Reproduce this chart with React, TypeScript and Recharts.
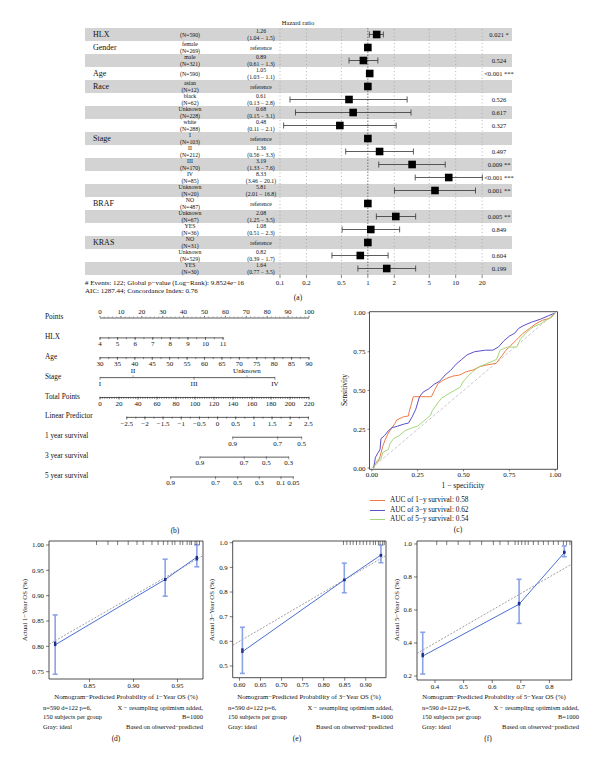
import React from 'react'
import {
  ComposedChart, Line, Scatter, XAxis, YAxis, ReferenceArea, ReferenceLine, ErrorBar,
} from 'recharts'

const FONT = '"Liberation Serif", "Times New Roman", "DejaVu Serif", serif'
const INK = '#111'

// ---------- (a) forest plot ----------
const variables = ['HLX', 'Gender', '', 'Age', 'Race', '', '', '', 'Stage', '', '', '', '', 'BRAF', '', '', 'KRAS', '', '']
const levels = ['', 'female', 'male', '', 'asian', 'black', 'Unknown', 'white', 'I', 'II', 'III', 'IV', 'Unknown', 'NO', 'Unknown', 'YES', 'NO', 'Unknown', 'YES']
const counts = [590, 269, 321, 590, 12, 62, 228, 288, 103, 212, 170, 85, 20, 487, 67, 36, 31, 529, 30]
const hrs = [1.26, null, 0.89, 1.05, null, 0.61, 0.68, 0.48, null, 1.36, 3.19, 8.33, 5.81, null, 2.08, 1.08, null, 0.82, 1.64]
const lows = [1.04, null, 0.61, 1.03, null, 0.13, 0.15, 0.11, null, 0.56, 1.33, 3.46, 2.01, null, 1.25, 0.51, null, 0.39, 0.77]
const highs = [1.5, null, 1.3, 1.1, null, 2.8, 3.1, 2.1, null, 3.3, 7.6, 20.1, 16.8, null, 3.5, 2.3, null, 1.7, 3.5]
const pvals = ['0.021 *', '', '0.524', '<0.001 ***', '', '0.526', '0.617', '0.327', '', '0.497', '0.009 **', '<0.001 ***', '0.001 **', '', '0.005 **', '0.849', '', '0.604', '0.199']
const hrTicks = [0.1, 0.2, 0.5, 1, 2, 5, 10, 20]

// ---------- (b) nomogram ----------
const nomoRows = ['Points', 'HLX', 'Age', 'Stage', 'Total Points', 'Linear Predictor', '1 year survival', '3 year survival', '5 year survival']
const pointsLabels = [0, 10, 20, 30, 40, 50, 60, 70, 80, 90, 100]
const hlxLabels = [4, 5, 6, 7, 8, 9, 10, 11]
const ageLabels = [30, 35, 40, 45, 50, 55, 60, 65, 70, 75, 80, 85, 90]
const stageLabels = ['I', 'II', 'III', 'Unknown', 'IV']
const stagePoints = [0, 15.8, 45, 70.3, 83.7]
const stageAbove = [false, true, false, true, false]
const totalLabels = [0, 20, 40, 60, 80, 100, 120, 140, 160, 180, 200, 220]
const lpLabels = [-2.5, -2, -1.5, -1, -0.5, 0, 0.5, 1, 1.5, 2, 2.5]
const surv1Labels = ['0.9', '0.7', '0.5']
const surv1Points = [63.5, 85, 96.5]
const surv3Labels = ['0.9', '0.7', '0.5', '0.3']
const surv3Points = [47.8, 69, 79.6, 90.3]
const surv5Labels = ['0.9', '0.7', '0.5', '0.3', '0.1', '0.05']
const surv5Points = [33.8, 55.3, 65.9, 76.2, 86.6, 92.5]

// ---------- (c) ROC ----------
const roc1: [number, number][] = [[0.01, 0], [0.02, 0.03], [0.036, 0.043], [0.045, 0.075], [0.06, 0.14], [0.072, 0.18], [0.09, 0.225], [0.108, 0.257], [0.127, 0.289], [0.136, 0.31], [0.172, 0.33], [0.2, 0.336], [0.204, 0.364], [0.212, 0.396], [0.226, 0.46], [0.325, 0.46], [0.344, 0.507], [0.362, 0.546], [0.38, 0.559], [0.407, 0.578], [0.443, 0.593], [0.479, 0.6], [0.515, 0.621], [0.552, 0.632], [0.588, 0.653], [0.624, 0.664], [0.678, 0.675], [0.705, 0.717], [0.732, 0.76], [0.759, 0.792], [0.787, 0.824], [0.823, 0.867], [0.859, 0.899], [0.895, 0.931], [0.931, 0.953], [0.967, 0.964], [0.986, 0.985], [1, 1]]
const roc3: [number, number][] = [[0.01, 0], [0.02, 0.07], [0.035, 0.1], [0.045, 0.12], [0.05, 0.19], [0.07, 0.21], [0.09, 0.24], [0.11, 0.26], [0.14, 0.27], [0.18, 0.285], [0.2, 0.29], [0.22, 0.33], [0.24, 0.38], [0.25, 0.42], [0.26, 0.46], [0.28, 0.49], [0.31, 0.51], [0.34, 0.54], [0.37, 0.56], [0.4, 0.6], [0.43, 0.63], [0.46, 0.67], [0.49, 0.7], [0.52, 0.73], [0.56, 0.75], [0.62, 0.76], [0.66, 0.76], [0.69, 0.78], [0.72, 0.82], [0.75, 0.85], [0.78, 0.87], [0.8, 0.9], [0.83, 0.92], [0.87, 0.94], [0.92, 0.96], [0.96, 0.98], [1, 1]]
const roc5: [number, number][] = [[0.01, 0], [0.03, 0.05], [0.05, 0.06], [0.06, 0.1], [0.09, 0.12], [0.1, 0.16], [0.12, 0.19], [0.15, 0.21], [0.18, 0.24], [0.22, 0.26], [0.25, 0.27], [0.27, 0.29], [0.3, 0.32], [0.32, 0.34], [0.33, 0.37], [0.36, 0.42], [0.38, 0.45], [0.42, 0.48], [0.45, 0.5], [0.48, 0.52], [0.5, 0.56], [0.53, 0.6], [0.55, 0.62], [0.58, 0.65], [0.62, 0.67], [0.68, 0.7], [0.7, 0.76], [0.74, 0.78], [0.79, 0.78], [0.81, 0.83], [0.84, 0.87], [0.88, 0.91], [0.92, 0.93], [0.96, 0.96], [0.98, 0.97], [1, 1]]
const rocTicks = [0, 0.25, 0.5, 0.75, 1]
const rocNames = ['AUC of 1−y survival: 0.58', 'AUC of 3−y survival: 0.62', 'AUC of 5−y survival: 0.54']
const rocColors = ['#EE7A45', '#5B50C8', '#A5D57A']

// ---------- (d)(e)(f) calibration ----------
const d1Pred = [0.811, 0.936, 0.972]
const d1Obs = [0.803, 0.932, 0.976]
const d1Alt = [0.807, 0.932, 0.972]
const d1Lo = [0.745, 0.899, 0.957]
const d1Hi = [0.862, 0.972, 1.0]
const d1Rug = [0.858, 0.871, 0.882, 0.894, 0.904, 0.911, 0.921, 0.928, 0.934, 0.939, 0.944, 0.947, 0.953, 0.956, 0.961, 0.964, 0.966, 0.97, 0.972, 0.975]

const d3Pred = [0.607, 0.849, 0.936]
const d3Obs = [0.558, 0.849, 0.95]
const d3Alt = [0.567, 0.849, 0.948]
const d3Lo = [0.47, 0.797, 0.919]
const d3Hi = [0.657, 0.917, 0.99]
const d3Rug = [0.847, 0.855, 0.863, 0.87, 0.878, 0.886, 0.894, 0.902, 0.91, 0.918, 0.923, 0.93, 0.934, 0.94, 0.944]

const d5Pred = [0.357, 0.694, 0.852]
const d5Obs = [0.321, 0.635, 0.947]
const d5Alt = [0.333, 0.642, 0.952]
const d5Lo = [0.212, 0.519, 0.923]
const d5Hi = [0.465, 0.786, 0.988]
const d5Rug = [0.406, 0.441, 0.481, 0.522, 0.563, 0.604, 0.627, 0.656, 0.68, 0.691, 0.703, 0.715, 0.726, 0.744, 0.761, 0.779, 0.796, 0.814, 0.831, 0.849, 0.86, 0.872]

const noteLeft = ['n=590 d=122 p=6,', '150 subjects per group', 'Gray: ideal']
const noteRight = ['X − resampling optimism added,', 'B=1000', 'Based on observed−predicted']

// ---------- helpers ----------
const Txt = ({ x, y, size = 7, anchor = 'start', rotate = false, children }: any) => {
  const tx = anchor === 'middle' ? '-50%' : anchor === 'end' ? '-100%' : '0'
  return (
    <div style={{
      position: 'absolute', left: x, top: y, fontSize: size, lineHeight: 1, whiteSpace: 'nowrap',
      transform: rotate ? 'translate(-50%,-50%) rotate(-90deg)' : `translate(${tx},-50%)`,
    }}>{children}</div>
  )
}

const fmt = (v: number) => String(v).replace('-', '−')

const ForestTick = ({ y, payload }: any) => {
  const i = payload.value
  const t = { textAnchor: 'middle' as const, dominantBaseline: 'central' as const, fontSize: 5.8 }
  return (
    <g fontFamily={FONT} fill={INK}>
      {variables[i] && <text x={93} y={y} dominantBaseline="central" fontSize={8}>{variables[i]}</text>}
      {levels[i] ? (
        <>
          <text x={190} y={y - 3.1} {...t}>{levels[i]}</text>
          <text x={190} y={y + 3.1} {...t}>(N={counts[i]})</text>
        </>
      ) : <text x={190} y={y} {...t}>(N={counts[i]})</text>}
      {hrs[i] == null ? <text x={261} y={y} {...t}>reference</text> : (
        <>
          <text x={261} y={y - 3.1} {...t}>{hrs[i]}</text>
          <text x={261} y={y + 3.1} {...t}>({lows[i]} − {highs[i]})</text>
        </>
      )}
      {pvals[i] && <text x={499} y={y} textAnchor="middle" dominantBaseline="central" fontSize={6.5}>{pvals[i]}</text>}
    </g>
  )
}

const Square = ({ cx, cy }: any) => <rect x={cx - 3.8} y={cy - 3.8} width={7.6} height={7.6} fill="#000" />

const Forest = () => {
  const est = hrs.map((h, i) => (h == null ? null : { x: h, y: i, err: [h - (lows[i] as number), (highs[i] as number) - h] }))
    .filter(Boolean) as any[]
  const refs = hrs.map((h, i) => (h == null ? { x: 1, y: i } : null)).filter(Boolean) as any[]
  return (
    <div style={{ position: 'absolute', left: 0, top: 0 }}>
      <ComposedChart width={600} height={300} margin={{ top: 28, right: 88, bottom: 0, left: 84 }}>
        <XAxis type="number" dataKey="x" scale="log" domain={[0.000603, 43.73]} allowDataOverflow ticks={hrTicks}
          tickFormatter={(v: number) => String(v)} height={25} axisLine={false} tickSize={3} tickMargin={2}
          tick={{ fontSize: 6.8, fill: INK, fontFamily: FONT }} tickLine={{ stroke: '#333', strokeWidth: 0.6 }} />
        <YAxis type="number" dataKey="y" domain={[-0.5, 18.5]} reversed width={1} ticks={levels.map((_, i) => i)}
          interval={0} axisLine={false} tickLine={false} tick={<ForestTick />} />
        {levels.map((_, i) => (i % 2 === 0 ? (
          <ReferenceArea key={'b' + i} y1={i - 0.5} y2={i + 0.5} fill="#d3d3d3" fillOpacity={1} stroke="none" />
        ) : null))}
        {hrTicks.map((t) => (
          <ReferenceLine key={'g' + t} x={t} stroke={t === 1 ? '#444' : '#999'} strokeWidth={0.7}
            strokeDasharray={t === 1 ? '1.5 1.5' : '1 2.5'} />
        ))}
        <Scatter data={est} shape={Square} isAnimationActive={false}>
          <ErrorBar dataKey="err" direction="x" width={3} stroke="#333" strokeWidth={0.8} />
        </Scatter>
        <Scatter data={refs} shape={Square} isAnimationActive={false} />
      </ComposedChart>
    </div>
  )
}

// nomogram rows
type NTick = { x: number; y: number; major: boolean; label?: string; above: boolean }
const linearRow = (row: number, labels: number[], p0: number, p1: number, minor: number, above = false) => {
  const v0 = labels[0]
  const v1 = labels[labels.length - 1]
  const toPts = (v: number) => p0 + ((v - v0) / (v1 - v0)) * (p1 - p0)
  const ticks: NTick[] = []
  for (let v = v0; v <= v1 + 1e-9; v += minor) ticks.push({ x: toPts(v), y: row, major: false, above })
  labels.forEach((v) => ticks.push({ x: toPts(v), y: row, major: true, label: fmt(v), above }))
  return { row, from: p0, to: p1, ticks }
}
const listRow = (row: number, labels: string[], pts: number[], above?: boolean[]) => ({
  row, from: pts[0], to: pts[pts.length - 1],
  ticks: labels.map((l, i) => ({ x: pts[i], y: row, major: true, label: l, above: above ? above[i] : false })),
})

const nomo = [
  linearRow(0, pointsLabels, 0, 100, 2, true),
  linearRow(1, hlxLabels, 0, 58.9, 0.5),
  linearRow(2, ageLabels, 0, 100, 2.5),
  listRow(3, stageLabels, stagePoints, stageAbove),
  linearRow(4, totalLabels, 0, 100, 2.5),
  linearRow(5, lpLabels, 12.8, 99.7, 0.25),
  listRow(6, surv1Labels, surv1Points),
  listRow(7, surv3Labels, surv3Points),
  listRow(8, surv5Labels, surv5Points),
]

const NomoTick = ({ cx, cy, payload }: any) => {
  const dir = payload.above ? -1 : 1
  const len = payload.major ? 2.2 : 1.4
  return (
    <g>
      <line x1={cx} x2={cx} y1={cy - (payload.major ? 0.8 : 0.6)} y2={cy + dir * len} stroke="#333" strokeWidth={0.55} />
      {payload.label != null && (
        <text x={cx} y={cy + dir * 6.3} textAnchor="middle" dominantBaseline="central" fontSize={7}
          fontFamily={FONT} fill={INK}>{payload.label}</text>
      )}
    </g>
  )
}

const Nomogram = () => (
  <div style={{ position: 'absolute', left: 0, top: 300 }}>
    <ComposedChart width={320} height={200} margin={{ top: 18, right: 11, bottom: 23, left: 100 }}>
      <XAxis type="number" dataKey="x" domain={[0, 100]} hide />
      <YAxis type="number" dataKey="y" domain={[0, 8]} reversed hide />
      {nomo.map((r) => (
        <ReferenceLine key={'r' + r.row} segment={[{ x: r.from, y: r.row }, { x: r.to, y: r.row }]}
          stroke="#333" strokeWidth={0.8} ifOverflow="visible" />
      ))}
      <Scatter data={nomo.flatMap((r) => r.ticks)} shape={NomoTick} isAnimationActive={false} />
    </ComposedChart>
  </div>
)

const Roc = () => {
  const series = [roc1, roc3, roc5].map((s) => s.map(([x, y]) => ({ x, y })))
  const ax = { fontSize: 7, fill: INK, fontFamily: FONT }
  return (
    <div style={{ position: 'absolute', left: 320, top: 300 }}>
      <ComposedChart width={280} height={200} margin={{ top: 11.7, right: 42.5, bottom: 18.7, left: 19.5 }}>
        <XAxis type="number" dataKey="x" domain={[-0.0125, 1.0125]} ticks={rocTicks} allowDataOverflow
          tickFormatter={(v: number) => v.toFixed(2)} height={12} axisLine={false} tickSize={2} tickMargin={0.5}
          tick={ax} tickLine={{ stroke: '#333', strokeWidth: 0.6 }} />
        <YAxis type="number" dataKey="y" domain={[-0.008, 1.008]} ticks={rocTicks} allowDataOverflow
          tickFormatter={(v: number) => v.toFixed(2)} width={30} axisLine={false} tickSize={2} tickMargin={2}
          tick={ax} tickLine={{ stroke: '#333', strokeWidth: 0.6 }} />
        <ReferenceArea x1={-0.0125} x2={1.0125} y1={-0.008} y2={1.008} fill="none" stroke="#222" strokeWidth={0.8} ifOverflow="visible" />
        <ReferenceLine segment={[{ x: 0, y: 0 }, { x: 1, y: 1 }]} stroke="#bbb" strokeDasharray="3 2" strokeWidth={0.8} />
        {series.map((d, i) => (
          <Line key={'roc' + i} data={d} dataKey="y" type="linear" stroke={rocColors[i]} strokeWidth={1}
            dot={false} isAnimationActive={false} />
        ))}
      </ComposedChart>
    </div>
  )
}

const RugTick = ({ cx, cy }: any) => <line x1={cx} x2={cx} y1={cy} y2={cy + 4} stroke="#222" strokeWidth={0.6} />
const CalDot = ({ cx, cy }: any) => <rect x={cx - 1.2} y={cy - 1.2} width={2.4} height={2.4} fill="#1d2f86" />

const CalPanel = (p: any) => {
  const pts = p.pred.map((x: number, i: number) => ({ x, y: p.obs[i], err: [p.obs[i] - p.lo[i], p.hi[i] - p.obs[i]] }))
  const alt = p.pred.map((x: number, i: number) => ({ x, y: p.alt[i] }))
  const rug = p.rug.map((x: number) => ({ x, y: p.yDomain[1] }))
  const [x0, x1] = p.xDomain
  const [y0, y1] = p.yDomain
  const ax = { fontSize: 6.8, fill: INK, fontFamily: FONT }
  return (
    <div style={{ position: 'absolute', left: p.left, top: 530 }}>
      <ComposedChart width={p.width} height={170} margin={{ top: 11, right: p.right, bottom: 0, left: 0 }}>
        <XAxis type="number" dataKey="x" domain={p.xDomain} ticks={p.xTicks} allowDataOverflow
          tickFormatter={(v: number) => v.toFixed(p.xDigits)} height={p.xAxisH} axisLine={false} tickSize={3}
          tickMargin={1.5} tick={ax} tickLine={{ stroke: '#222', strokeWidth: 0.6 }} />
        <YAxis type="number" dataKey="y" domain={p.yDomain} ticks={p.yTicks} allowDataOverflow
          tickFormatter={(v: number) => v.toFixed(p.yDigits)} width={p.yAxisW} axisLine={false} tickSize={3}
          tickMargin={2} tick={ax} tickLine={{ stroke: '#222', strokeWidth: 0.6 }} />
        <ReferenceArea x1={x0} x2={x1} y1={y0} y2={y1} fill="none" stroke="#222" strokeWidth={0.8} ifOverflow="visible" />
        <ReferenceLine segment={[{ x: x0, y: x0 }, { x: x1, y: x1 }]} stroke="#888" strokeDasharray="2 1.5"
          strokeWidth={0.8} ifOverflow="visible" />
        <Scatter data={rug} shape={RugTick} isAnimationActive={false} />
        <Line data={pts} dataKey="y" type="linear" stroke="#4a6fd6" strokeWidth={1} dot={CalDot} isAnimationActive={false}>
          <ErrorBar dataKey="err" direction="y" width={2.5} stroke="#8aa3e6" strokeWidth={1.6} />
        </Line>
        <Scatter data={alt} shape={CalDot} isAnimationActive={false} />
      </ComposedChart>
    </div>
  )
}

const App = () => (
  <div style={{ position: 'absolute', left: 0, top: 0, width: 600, height: 762, background: '#fff', fontFamily: FONT, color: INK, overflow: 'hidden' }}>
    <Forest />
    <Txt x={298} y={23} size={6.5} anchor="middle">Hazard ratio</Txt>
    <Txt x={85} y={283} size={7}># Events: 122; Global p−value (Log−Rank): 9.8524e−16</Txt>
    <Txt x={85} y={291} size={7}>AIC: 1287.44; Concordance Index: 0.76</Txt>
    <Txt x={298} y={298} size={7.5} anchor="middle">(a)</Txt>

    <Nomogram />
    {nomoRows.map((n, i) => (
      <Txt key={n} x={45} y={317 + i * 19.875} size={7.3}>{n}</Txt>
    ))}
    <Txt x={175} y={531} size={7.5} anchor="middle">(b)</Txt>

    <Roc />
    <Txt x={345} y={390} size={7.5} rotate>Sensitivity</Txt>
    <Txt x={463} y={486} size={7.5} anchor="middle">1 − specificity</Txt>
    {rocNames.map((n, i) => (
      <div key={n} style={{ position: 'absolute', left: 370, top: 500 + i * 9.5 }}>
        <div style={{ position: 'absolute', left: 0, top: 0, width: 15, borderTop: `1.2px solid ${rocColors[i]}` }} />
        <Txt x={20} y={0} size={7.3}>{n}</Txt>
      </div>
    ))}
    <Txt x={458} y={530} size={7.5} anchor="middle">(c)</Txt>

    <CalPanel left={0} width={210} right={7} yAxisW={49} xAxisH={21}
      xDomain={[0.804, 0.979]} yDomain={[0.7356, 1.0079]} xTicks={[0.85, 0.9, 0.95]} yTicks={[0.75, 0.8, 0.85, 0.9, 0.95, 1.0]}
      xDigits={2} yDigits={2} pred={d1Pred} obs={d1Obs} alt={d1Alt} lo={d1Lo} hi={d1Hi} rug={d1Rug} />
    <CalPanel left={205} width={195} right={14} yAxisW={27.7} xAxisH={22.3}
      xDomain={[0.584, 0.948]} yDomain={[0.4526, 1.0069]} xTicks={[0.6, 0.65, 0.7, 0.75, 0.8, 0.85, 0.9]} yTicks={[0.5, 0.6, 0.7, 0.8, 0.9, 1.0]}
      xDigits={2} yDigits={1} pred={d3Pred} obs={d3Obs} alt={d3Alt} lo={d3Lo} hi={d3Hi} rug={d3Rug} />
    <CalPanel left={400} width={200} right={28.3} yAxisW={17} xAxisH={20}
      xDomain={[0.337, 0.878]} yDomain={[0.176, 1.018]} xTicks={[0.4, 0.5, 0.6, 0.7, 0.8]} yTicks={[0.2, 0.4, 0.6, 0.8, 1.0]}
      xDigits={1} yDigits={1} pred={d5Pred} obs={d5Obs} alt={d5Alt} lo={d5Lo} hi={d5Hi} rug={d5Rug} />

    {[
      { cx: 126, yx: 25, l: 43, r: 203, y: 1, tag: '(d)', tx: 116 },
      { cx: 309, yx: 212, l: 228, r: 393, y: 3, tag: '(e)', tx: 297 },
      { cx: 494, yx: 397, l: 422, r: 579, y: 5, tag: '(f)', tx: 488 },
    ].map((c) => (
      <React.Fragment key={c.tag}>
        <Txt x={c.yx} y={610} size={6.8} rotate>Actual {c.y}−Year OS (%)</Txt>
        <Txt x={c.cx} y={697} size={6.8} anchor="middle">Nomogram−Predicted Probability of {c.y}−Year OS (%)</Txt>
        {noteLeft.map((n, i) => <Txt key={'l' + i} x={c.l} y={708 + i * 8.7 + (i === 2 ? 1.5 : 0)} size={6.5}>{n}</Txt>)}
        {noteRight.map((n, i) => <Txt key={'r' + i} x={c.r} y={708 + i * 8.7 + (i === 2 ? 1.5 : 0)} size={6.5} anchor="end">{n}</Txt>)}
        <Txt x={c.tx} y={739} size={7.5} anchor="middle">{c.tag}</Txt>
      </React.Fragment>
    ))}
  </div>
)

export default App
